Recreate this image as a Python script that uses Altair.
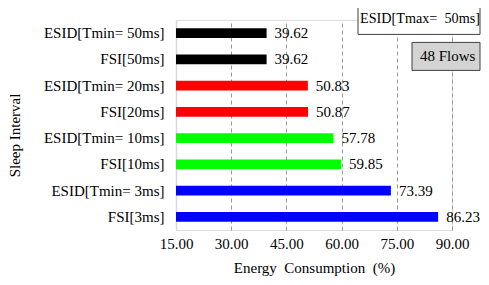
import altair as alt
import pandas as pd

labels = ["ESID[Tmin= 50ms]", "FSI[50ms]", "ESID[Tmin= 20ms]", "FSI[20ms]",
          "ESID[Tmin= 10ms]", "FSI[10ms]", "ESID[Tmin= 3ms]", "FSI[3ms]"]
values = [39.62, 39.62, 50.83, 50.87, 57.78, 59.85, 73.39, 86.23]
groups = ["50ms", "50ms", "20ms", "20ms", "10ms", "10ms", "3ms", "3ms"]
group_names = ["50ms", "20ms", "10ms", "3ms"]
group_colors = ["#000000", "#ff0000", "#00ff00", "#0000ff"]
x_ticks = [15, 30, 45, 60, 75, 90]

df = pd.DataFrame({"label": labels, "value": values, "group": groups})
FONT = "Liberation Serif"

y_enc = alt.Y("label:N", sort=labels,
              scale=alt.Scale(paddingInner=0.62, paddingOuter=0.31),
              axis=alt.Axis(title="Sleep Interval", ticks=False, labelPadding=12,
                            labelFont=FONT, labelFontSize=15, labelColor="#000000",
                            titleFont=FONT, titleFontSize=15, titleFontWeight="normal",
                            titleColor="#000000", titleX=-157, titleY=115,
                            titleBaseline="alphabetic",
                            domainColor="#d9d9d9", domainWidth=1.5, grid=False))
x_enc = alt.X("value:Q", scale=alt.Scale(domain=[15, 90], nice=False, zero=False),
              axis=alt.Axis(title="Energy\u00a0 Consumption\u00a0 (%)", values=x_ticks,
                            format=".2f", domain=False, ticks=False, labelPadding=6,
                            labelFlush=False, labelOverlap=False,
                            labelFont=FONT, labelFontSize=15, labelColor="#000000",
                            titleFont=FONT, titleFontSize=15, titleFontWeight="normal",
                            titleColor="#000000", titlePadding=9,
                            grid=True, gridColor="#999999", gridDash=[4, 3],
                            gridWidth=1,
                            gridOpacity={"condition": {"test": "datum.value === 15", "value": 0}, "value": 1}))

bars = alt.Chart(df).mark_bar().encode(
    y=y_enc,
    x=x_enc,
    x2=alt.datum(15),
    color=alt.Color("group:N", scale=alt.Scale(domain=group_names, range=group_colors), legend=None),
)

vals = alt.Chart(df).mark_text(align="left", baseline="middle", dx=8, font=FONT,
                               fontSize=15, color="#000000").encode(
    y=alt.Y("label:N", sort=labels),
    x="value:Q",
    text=alt.Text("value:Q", format=".2f"),
)

ann = pd.DataFrame({"k": [0]})
box1 = alt.Chart(ann).mark_rect(fill="white", stroke="#404040", strokeWidth=1).encode(
    x=alt.value(182), x2=alt.value(304), y=alt.value(-14.6), y2=alt.value(14.4))
txt1 = alt.Chart(ann).mark_text(align="left", baseline="middle", font=FONT, fontSize=14.2,
                                color="#000000", text="ESID[Tmax=\u00a0 50ms]").encode(
    x=alt.value(184), y=alt.value(-0.6))
box2 = alt.Chart(ann).mark_rect(fill="#d3d3d3", stroke="#404040", strokeWidth=1).encode(
    x=alt.value(236), x2=alt.value(304), y=alt.value(22.4), y2=alt.value(50.4))
txt2 = alt.Chart(ann).mark_text(align="left", baseline="middle", font=FONT, fontSize=15,
                                color="#000000", text="48 Flows").encode(
    x=alt.value(244), y=alt.value(36.4))

chart = alt.layer(bars, vals, box1, txt1, box2, txt2).properties(
    width=276, height=210,
    autosize=alt.AutoSizeParams(type="none"),
    padding={"left": 168, "top": 12, "right": 29, "bottom": 47},
).configure_view(stroke=None).configure(background="white")

chart.save("out.html", embed_options={"renderer": "svg", "actions": False})
